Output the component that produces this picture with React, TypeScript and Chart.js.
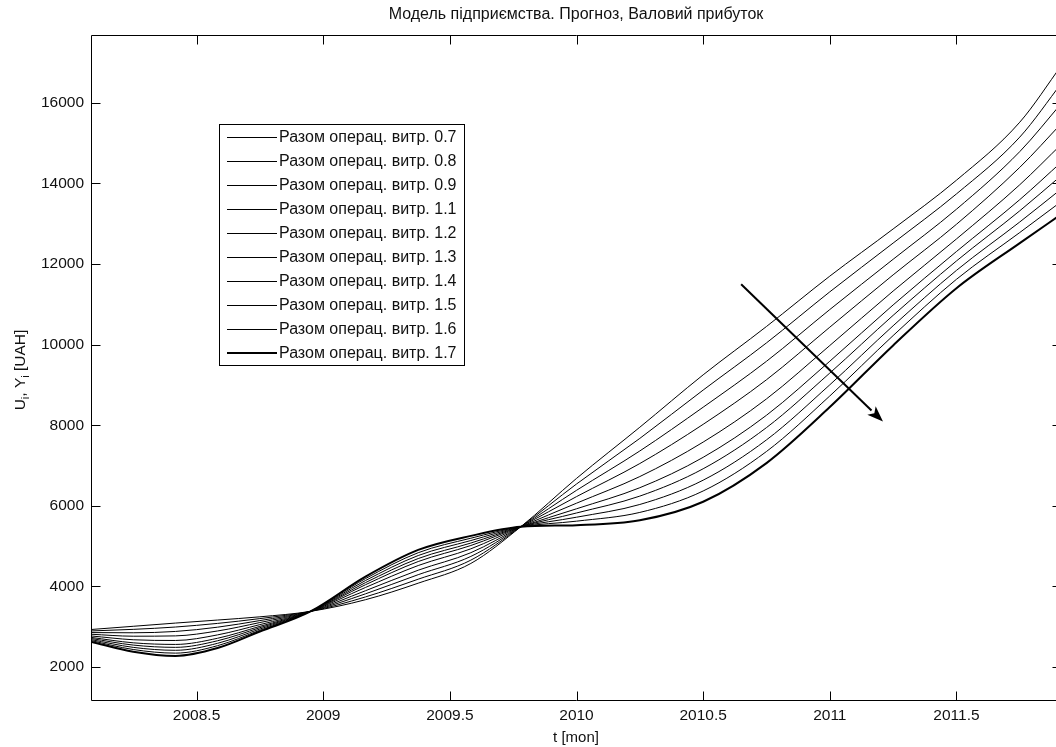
import React, { useEffect, useRef } from "react";
import { Chart, registerables } from "chart.js";

Chart.register(...registerables);

const TITLE = "Модель підприємства. Прогноз, Валовий прибуток";
const X_LABEL = "t [mon]";
const Y_LABEL_PARTS: [string, boolean][] = [
  ["U", false],
  ["i", true],
  [", Y", false],
  ["i", true],
  [" [UAH]", false],
];

const T = [
  2008.083, 2008.25, 2008.417, 2008.583, 2008.75, 2008.95, 2009.167, 2009.375, 2009.583, 2009.78,
  2010.0, 2010.25, 2010.5, 2010.75, 2011.0, 2011.25, 2011.5, 2011.75, 2011.917,
];

const S07 = [2930, 3010, 3090, 3165, 3245, 3380, 3670, 4080, 4570, 5480, 6680, 7950, 9250, 10450, 11700, 12870, 14080, 15520, 16950];
const S08 = [2894, 2934, 2992, 3082, 3201, 3380, 3739, 4179, 4652, 5480, 6541, 7673, 8872, 10043, 11310, 12520, 13740, 15150, 16506];
const S09 = [2854, 2849, 2882, 2988, 3152, 3380, 3816, 4291, 4744, 5480, 6384, 7361, 8447, 9586, 10871, 12118, 13360, 14790, 16007];
const S11 = [2813, 2764, 2772, 2894, 3103, 3380, 3893, 4402, 4837, 5480, 6228, 7049, 8022, 9128, 10433, 11731, 12986, 14399, 15507];
const S12 = [2771, 2676, 2658, 2797, 3052, 3380, 3974, 4518, 4933, 5480, 6065, 6726, 7581, 8653, 9978, 11329, 12622, 13968, 14989];
const S13 = [2735, 2600, 2560, 2713, 3008, 3380, 4042, 4617, 5015, 5480, 5926, 6449, 7203, 8247, 9588, 10985, 12310, 13598, 14545];
const S14 = [2708, 2544, 2487, 2651, 2975, 3380, 4094, 4691, 5076, 5480, 5822, 6241, 6919, 7941, 9295, 10726, 12076, 13321, 14212];
const S15 = [2681, 2487, 2414, 2588, 2942, 3380, 4146, 4766, 5138, 5480, 5717, 6033, 6636, 7636, 9003, 10468, 11842, 13044, 13879];
const S16 = [2656, 2434, 2344, 2529, 2911, 3380, 4194, 4836, 5196, 5480, 5619, 5836, 6368, 7348, 8726, 10224, 11621, 12782, 13565];
const S17 = [2630, 2380, 2275, 2470, 2880, 3380, 4243, 4906, 5254, 5480, 5520, 5640, 6100, 7060, 8450, 9980, 11400, 12520, 13250];

const SERIES = [S07, S08, S09, S11, S12, S13, S14, S15, S16, S17];
const SERIES_LABELS = [
  "Разом операц. витр. 0.7",
  "Разом операц. витр. 0.8",
  "Разом операц. витр. 0.9",
  "Разом операц. витр. 1.1",
  "Разом операц. витр. 1.2",
  "Разом операц. витр. 1.3",
  "Разом операц. витр. 1.4",
  "Разом операц. витр. 1.5",
  "Разом операц. витр. 1.6",
  "Разом операц. витр. 1.7",
];

const X_TICKS = [2008.5, 2009, 2009.5, 2010, 2010.5, 2011, 2011.5];
const Y_TICKS = [2000, 4000, 6000, 8000, 10000, 12000, 14000, 16000];
const X_MIN = 2008.0833;
const X_MAX = 2011.9167;
const Y_MIN = 1156;
const Y_MAX = 17684;

const ARROW_FROM = [2010.65, 11500];
const ARROW_TO = [2011.21, 8090];

const FONT = "'Liberation Sans', Arial, sans-serif";
const TEXT = "#111";

const decorPlugin = {
  id: "matlabDecor",
  afterDraw(chart: any) {
    const ctx: CanvasRenderingContext2D = chart.ctx;
    const { left, right, top, bottom } = chart.chartArea;
    const xs = chart.scales.x;
    const ys = chart.scales.y;
    const L = Math.round(left) + 0.5;
    const R = Math.round(right) - 0.5;
    const Tp = Math.round(top) + 0.5;
    const B = Math.round(bottom) - 0.5;
    ctx.save();
    ctx.strokeStyle = "#000";
    ctx.lineWidth = 1;
    ctx.beginPath();
    ctx.rect(L, Tp, R - L, B - Tp);
    ctx.stroke();
    const tl = 9;
    ctx.beginPath();
    for (const v of X_TICKS) {
      const px = Math.round(xs.getPixelForValue(v)) + 0.5;
      ctx.moveTo(px, B);
      ctx.lineTo(px, B - tl);
      ctx.moveTo(px, Tp);
      ctx.lineTo(px, Tp + tl);
    }
    for (const v of Y_TICKS) {
      const py = Math.round(ys.getPixelForValue(v)) + 0.5;
      ctx.moveTo(L, py);
      ctx.lineTo(L + tl, py);
      ctx.moveTo(R, py);
      ctx.lineTo(R - tl, py);
    }
    ctx.stroke();

    // arrow
    const ax0 = xs.getPixelForValue(ARROW_FROM[0]);
    const ay0 = ys.getPixelForValue(ARROW_FROM[1]);
    const ax1 = xs.getPixelForValue(ARROW_TO[0]);
    const ay1 = ys.getPixelForValue(ARROW_TO[1]);
    const ang = Math.atan2(ay1 - ay0, ax1 - ax0);
    const hl = 16;
    const hw = 6;
    const bx = ax1 - hl * Math.cos(ang);
    const by = ay1 - hl * Math.sin(ang);
    ctx.lineWidth = 2;
    ctx.beginPath();
    ctx.moveTo(ax0, ay0);
    ctx.lineTo(bx, by);
    ctx.stroke();
    ctx.fillStyle = "#000";
    ctx.beginPath();
    ctx.moveTo(ax1, ay1);
    ctx.lineTo(bx + hw * Math.sin(ang), by - hw * Math.cos(ang));
    ctx.lineTo(bx + 4 * Math.cos(ang), by + 4 * Math.sin(ang));
    ctx.lineTo(bx - hw * Math.sin(ang), by + hw * Math.cos(ang));
    ctx.closePath();
    ctx.fill();

    // title and axis labels
    const cx = 576;
    ctx.fillStyle = TEXT;
    ctx.font = `16px ${FONT}`;
    ctx.textAlign = "center";
    ctx.textBaseline = "middle";
    ctx.fillText(TITLE, cx, 15);
    ctx.font = `15px ${FONT}`;
    ctx.fillText(X_LABEL, cx, 738);

    // y label rotated
    ctx.save();
    ctx.translate(20, (top + bottom) / 2 + 2);
    ctx.rotate(-Math.PI / 2);
    const mainFont = `15.5px ${FONT}`;
    const subFont = `11px ${FONT}`;
    let total = 0;
    for (const [s, sub] of Y_LABEL_PARTS) {
      ctx.font = sub ? subFont : mainFont;
      total += ctx.measureText(s).width;
    }
    let x = -total / 2;
    ctx.textAlign = "left";
    ctx.textBaseline = "alphabetic";
    for (const [s, sub] of Y_LABEL_PARTS) {
      ctx.font = sub ? subFont : mainFont;
      ctx.fillText(s, x, sub ? 9 : 5);
      x += ctx.measureText(s).width;
    }
    ctx.restore();

    // legend
    const lgL = 219.5, lgT = 124.5, lgR = 464.5, lgB = 365.5;
    ctx.fillStyle = "#fff";
    ctx.fillRect(lgL, lgT, lgR - lgL, lgB - lgT);
    ctx.strokeStyle = "#000";
    ctx.lineWidth = 1;
    ctx.strokeRect(lgL, lgT, lgR - lgL, lgB - lgT);
    ctx.font = `16px ${FONT}`;
    ctx.textAlign = "left";
    ctx.textBaseline = "middle";
    chart.data.datasets.forEach((ds: any, i: number) => {
      const y = 136.5 + i * 24.05;
      const off = ds.borderWidth % 2 ? 0.5 : 0;
      ctx.strokeStyle = ds.borderColor;
      ctx.lineWidth = ds.borderWidth;
      ctx.beginPath();
      ctx.moveTo(227, Math.round(y) + off);
      ctx.lineTo(277, Math.round(y) + off);
      ctx.stroke();
      ctx.fillStyle = TEXT;
      ctx.fillText(ds.label, 279, y + 1);
    });
    ctx.restore();
  },
};

export default function App() {
  const ref = useRef<HTMLCanvasElement | null>(null);
  useEffect(() => {
    if (!ref.current) return;
    const datasets = SERIES.map((vals, i) => ({
      label: SERIES_LABELS[i],
      data: vals.map((v, j) => ({ x: T[j], y: v })),
      borderColor: "#000",
      borderWidth: i === SERIES.length - 1 ? 2 : 1,
      pointRadius: 0,
      fill: false,
      cubicInterpolationMode: "monotone" as const,
    }));
    const chart = new Chart(ref.current, {
      type: "line",
      data: { datasets },
      options: {
        responsive: false,
        animation: false,
        events: [],
        layout: { padding: { left: 0, right: 8, top: 35, bottom: 0 } },
        plugins: {
          legend: { display: false },
          tooltip: { enabled: false },
          title: { display: false },
        },
        scales: {
          x: {
            type: "linear",
            min: X_MIN,
            max: X_MAX,
            afterBuildTicks: (s: any) => {
              s.ticks = X_TICKS.map((v) => ({ value: v }));
            },
            afterFit: (s: any) => {
              s.height = 46;
            },
            ticks: {
              callback: (v: any) => String(v),
              font: { family: FONT, size: 15.5 },
              color: TEXT,
              padding: 5,
              maxRotation: 0,
              autoSkip: false,
            },
            grid: { display: false, drawTicks: false },
            border: { display: false },
          },
          y: {
            type: "linear",
            min: Y_MIN,
            max: Y_MAX,
            afterBuildTicks: (s: any) => {
              s.ticks = Y_TICKS.map((v) => ({ value: v }));
            },
            afterFit: (s: any) => {
              s.width = 91;
            },
            ticks: {
              callback: (v: any) => String(v),
              font: { family: FONT, size: 15.5 },
              color: TEXT,
              padding: 7,
              autoSkip: false,
            },
            grid: { display: false, drawTicks: false },
            border: { display: false },
          },
        },
      },
      plugins: [decorPlugin],
    });
    return () => chart.destroy();
  }, []);
  return (
    <div style={{ position: "fixed", left: 0, top: 0, width: 1070, height: 747, background: "#fff" }}>
      <canvas ref={ref} width={1070} height={747} style={{ display: "block" }} />
    </div>
  );
}
